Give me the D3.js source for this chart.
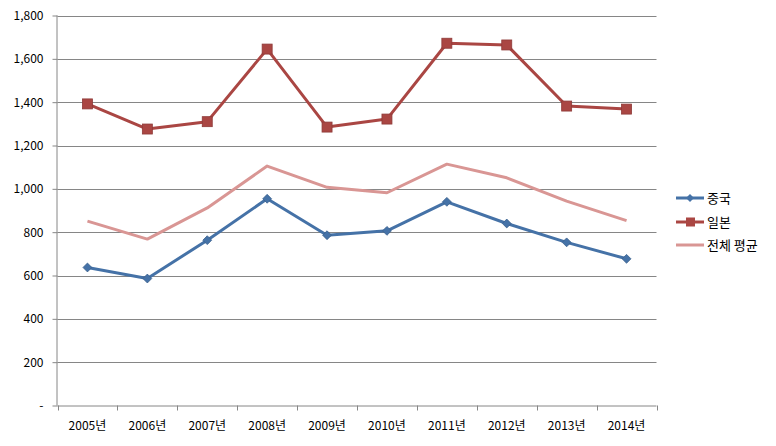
<!DOCTYPE html>
<html><head><meta charset="utf-8">
<script src="https://cdn.jsdelivr.net/npm/d3@7"></script>
<style>body{margin:0;background:#fff}svg{display:block}text{font-family:"Noto Sans CJK KR","Noto Sans",sans-serif;fill:#000}</style>
</head><body><svg id="c" width="776" height="446"></svg>
<script>
const categories = ["2005년","2006년","2007년","2008년","2009년","2010년","2011년","2012년","2013년","2014년"];
const china = [637, 586, 763, 954, 786, 806, 940, 840, 753, 677];
const japan = [1392, 1276, 1310, 1645, 1285, 1322, 1672, 1664, 1382, 1368];
const average = [851, 768, 912, 1105, 1007, 982, 1114, 1051, 943, 853];
const seriesNames = ["중국", "일본", "전체 평균"];
const yTicks = [0, 200, 400, 600, 800, 1000, 1200, 1400, 1600, 1800];

const svg = d3.select("#c");
const L = 57.5, R = 656.5, T = 15.5, B = 405.5;
const x = d3.scaleBand().domain(categories).range([L, R]);
const y = d3.scaleLinear().domain([0, 1800]).range([B, T]);
const grid = "#868686";

// gridlines
svg.append("g").selectAll("line").data(yTicks.filter(d => d > 0)).join("line")
  .attr("x1", L).attr("x2", R).attr("y1", d => Math.round(y(d)) + 0.5).attr("y2", d => Math.round(y(d)) + 0.5)
  .attr("stroke", grid).attr("stroke-width", 1);

// y axis
const yAxis = d3.axisLeft(y).tickValues(yTicks).tickSize(5).tickPadding(9)
  .tickFormat(d => d === 0 ? "-" : d3.format(",")(d));
const ga = svg.append("g").attr("transform", `translate(${L},0)`).call(yAxis);
ga.select(".domain").attr("stroke", grid).attr("d", `M-0.5,${T}V${B}`);
ga.selectAll(".tick line").attr("stroke", grid);
ga.selectAll("text").style("font-size", "12px").attr("fill", "#000");

// x axis
const xAxis = d3.axisBottom(x).tickSize(0).tickPadding(16);
const gx = svg.append("g").attr("transform", `translate(0,${B})`).call(xAxis);
gx.select(".domain").attr("stroke", grid).attr("d", `M${L},0.5H${R}`);
gx.selectAll("text").style("font-size", "12px").attr("fill", "#000");
// boundary ticks
const edges = categories.map(c => x(c)).concat([x(categories[categories.length-1]) + x.bandwidth()]);
gx.append("g").selectAll("line").data(edges).join("line")
  .attr("x1", d => Math.round(d) + 0.5).attr("x2", d => Math.round(d) + 0.5).attr("y1", 0).attr("y2", 5)
  .attr("stroke", grid);

const cx = c => x(c) + x.bandwidth() / 2;
const line = d3.line().x((d, i) => cx(categories[i])).y(d => y(d));

const colors = ["#4572A7", "#AA4643", "#D99694"];

// average (no markers)
svg.append("path").datum(average).attr("d", line).attr("fill", "none")
  .attr("stroke", colors[2]).attr("stroke-width", 3).attr("stroke-linejoin", "round");
// china
svg.append("path").datum(china).attr("d", line).attr("fill", "none")
  .attr("stroke", colors[0]).attr("stroke-width", 3).attr("stroke-linejoin", "round");
svg.append("g").selectAll("path").data(china).join("path")
  .attr("transform", (d, i) => `translate(${cx(categories[i])},${y(d)})`)
  .attr("d", d3.symbol(d3.symbolDiamond2, 50)()).attr("fill", colors[0]).attr("stroke", "#3A5F8C").attr("stroke-width", 0.8);
// japan
svg.append("path").datum(japan).attr("d", line).attr("fill", "none")
  .attr("stroke", colors[1]).attr("stroke-width", 3).attr("stroke-linejoin", "round");
svg.append("g").selectAll("rect").data(japan).join("rect")
  .attr("x", (d, i) => cx(categories[i]) - 5).attr("y", d => y(d) - 5)
  .attr("width", 10).attr("height", 10).attr("fill", colors[1]).attr("stroke", "#8E3A38").attr("stroke-width", 0.8);

// legend
const ly = [198, 222, 245];
const lg = svg.append("g");
seriesNames.forEach((n, i) => {
  lg.append("line").attr("x1", 676).attr("x2", 704).attr("y1", ly[i]).attr("y2", ly[i])
    .attr("stroke", colors[i]).attr("stroke-width", 3);
  if (i === 0) lg.append("path").attr("transform", `translate(690,${ly[i]})`)
    .attr("d", d3.symbol(d3.symbolDiamond2, 40)()).attr("fill", colors[0]);
  if (i === 1) lg.append("rect").attr("x", 686).attr("y", ly[i] - 4.5).attr("width", 9).attr("height", 9).attr("fill", colors[1]);
  lg.append("text").attr("x", 707).attr("y", ly[i]).attr("dy", "0.35em").style("font-size", "13px").text(n);
});
</script></body></html>
